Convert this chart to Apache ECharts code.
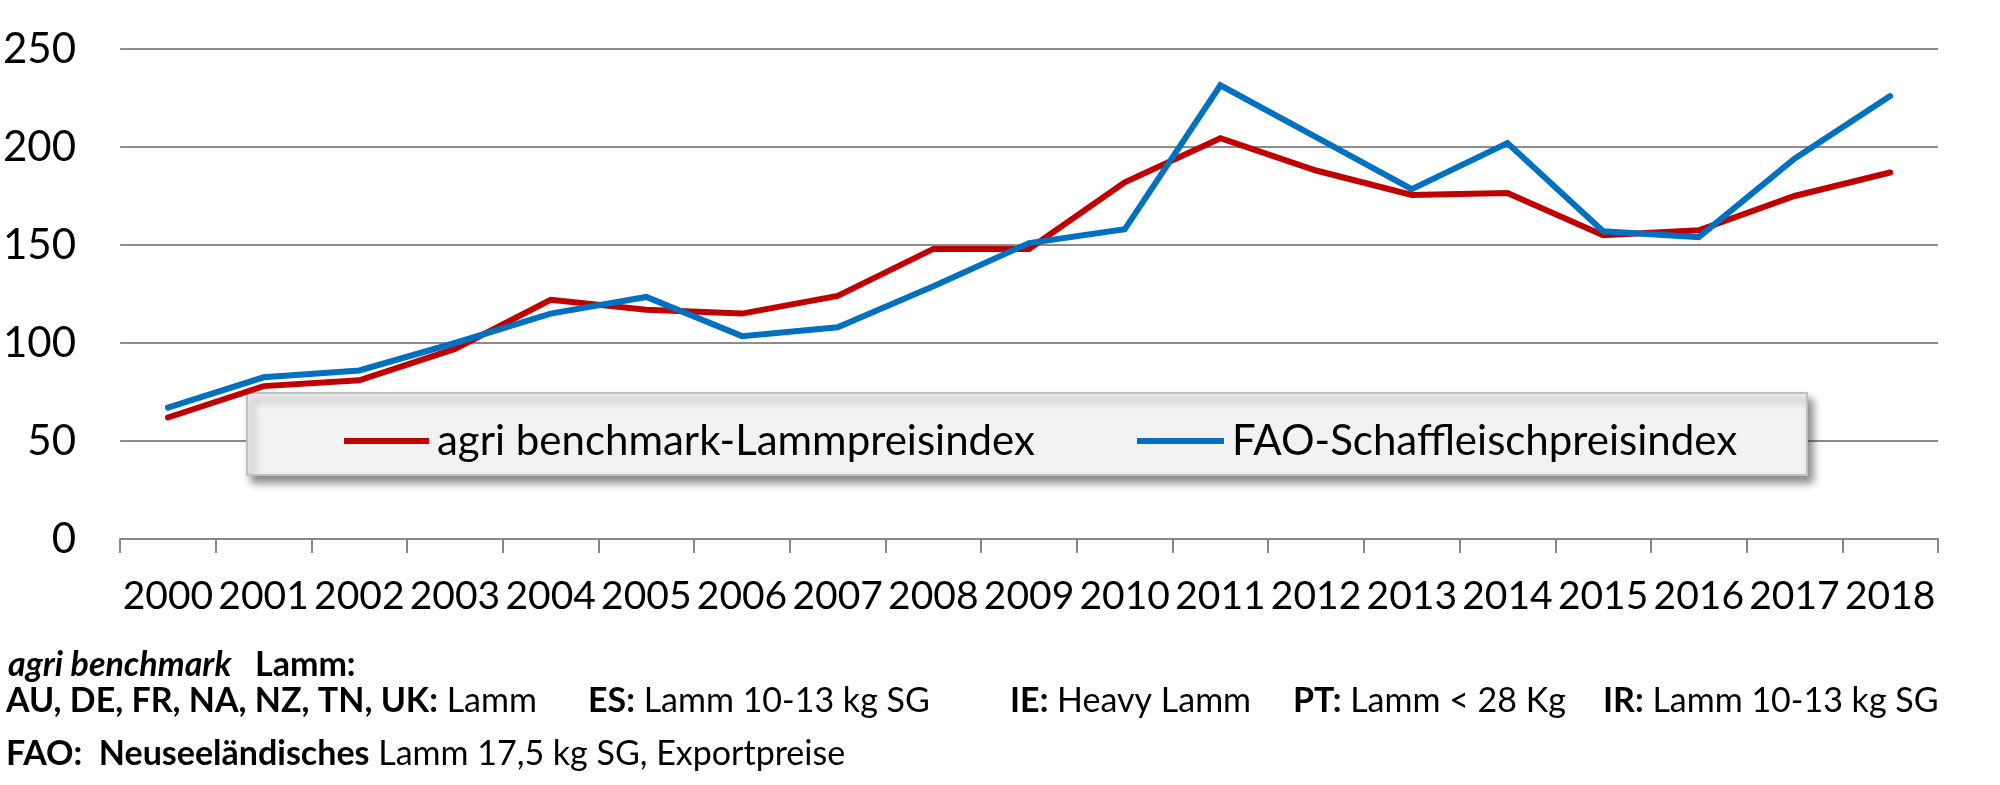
<!DOCTYPE html>
<html>
<head>
<meta charset="utf-8">
<script src="https://cdn.jsdelivr.net/npm/echarts@6/dist/echarts.min.js"></script>
<style>
  html, body { margin: 0; padding: 0; background: #fff; }
  #main { width: 2000px; height: 785px; }
</style>
</head>
<body>
<div id="main"></div>
<script>
var years = ['2000', '2001', '2002', '2003', '2004', '2005', '2006', '2007', '2008', '2009',
             '2010', '2011', '2012', '2013', '2014', '2015', '2016', '2017', '2018'];

// agri benchmark-Lammpreisindex
var agriIndex = [62, 78, 81, 97, 122, 117, 115, 124, 148, 148,
                 182, 204.5, 188, 175.5, 176.5, 155, 157.5, 175, 187];

// FAO-Schaffleischpreisindex
var faoIndex = [67, 82.5, 86, 100, 115, 123.5, 103.5, 108, 129, 151,
                158, 231.5, 205, 178.5, 202, 157, 154, 194, 226];

var seriesNames = ['agri benchmark-Lammpreisindex', 'FAO-Schaffleischpreisindex'];
var seriesColors = ['#c00000', '#0070c0'];

var FONT = 'Lato';
var FS = 34;

var myChart = echarts.init(document.getElementById('main'));

var footRich = {
    bi: { fontFamily: FONT, fontSize: FS, fontWeight: 'bold', fontStyle: 'italic', fill: '#000' },
    b:  { fontFamily: FONT, fontSize: FS, fontWeight: 'bold', fill: '#000' },
    r:  { fontFamily: FONT, fontSize: FS, fill: '#000' }
};

function footText(x, y, txt) {
    return {
        type: 'text',
        x: x,
        y: y,
        style: {
            text: txt,
            rich: footRich,
            font: FS + 'px ' + FONT,
            verticalAlign: 'middle',
            fill: '#000'
        }
    };
}

var option = {
    backgroundColor: '#fff',
    animation: false,
    grid: { left: 115, right: 62, top: 49, bottom: 246 },
    xAxis: {
        type: 'category',
        data: years,
        boundaryGap: true,
        axisLine: { lineStyle: { color: '#868686', width: 2 } },
        axisTick: { show: true, length: 14, lineStyle: { color: '#868686', width: 2 } },
        axisLabel: { interval: 0, margin: 38, color: '#000', fontSize: 39, fontFamily: FONT }
    },
    yAxis: {
        type: 'value',
        min: 0,
        max: 250,
        interval: 50,
        axisLine: { show: false },
        axisTick: { show: false },
        axisLabel: { margin: 44, color: '#000', fontSize: 42, fontFamily: FONT },
        splitLine: { lineStyle: { color: '#8c8c8c', width: 2 } }
    },
    legend: [
        {
            data: [seriesNames[0]],
            left: 344, top: 420, padding: 0,
            icon: 'rect', itemWidth: 85, itemHeight: 6, itemGap: 0,
            textStyle: { fontSize: 42, fontFamily: FONT, color: '#000', padding: [0, 0, 0, 3] },
            z: 10
        },
        {
            data: [seriesNames[1]],
            left: 1137, top: 420, padding: 0,
            icon: 'rect', itemWidth: 87, itemHeight: 6, itemGap: 0,
            textStyle: { fontSize: 42, fontFamily: FONT, color: '#000', padding: [0, 0, 0, 3] },
            z: 10
        }
    ],
    graphic: [
        {
            type: 'rect',
            z: 1,
            shape: { x: 247, y: 393, width: 1560, height: 82 },
            style: {
                fill: '#f2f2f2',
                stroke: '#c0c0c0',
                lineWidth: 2,
                shadowBlur: 8,
                shadowOffsetX: 5,
                shadowOffsetY: 7,
                shadowColor: 'rgba(0,0,0,0.45)'
            }
        },
        footText(8, 665, '{bi|agri benchmark}'),
        footText(255, 665, '{b|Lamm:}'),
        footText(6, 701, '{b|AU, DE, FR, NA, NZ, TN, UK:} {r|Lamm}'),
        footText(588, 701, '{b|ES:} {r|Lamm 10-13 kg SG}'),
        footText(1010, 701, '{b|IE:} {r|Heavy Lamm}'),
        footText(1293, 701, '{b|PT:} {r|Lamm < 28 Kg}'),
        footText(1603, 701, '{b|IR:} {r|Lamm 10-13 kg SG}'),
        footText(6, 754, '{b|FAO:  Neuseeländisches} {r|Lamm 17,5 kg SG, Exportpreise}')
    ],
    series: [
        {
            name: seriesNames[0],
            type: 'line',
            data: agriIndex,
            symbol: 'none',
            z: 3,
            itemStyle: { color: seriesColors[0] },
            lineStyle: { color: seriesColors[0], width: 6, cap: 'round', join: 'miter' }
        },
        {
            name: seriesNames[1],
            type: 'line',
            data: faoIndex,
            symbol: 'none',
            z: 4,
            itemStyle: { color: seriesColors[1] },
            lineStyle: { color: seriesColors[1], width: 6, cap: 'round', join: 'miter' }
        }
    ]
};

myChart.setOption(option);
</script>
</body>
</html>
